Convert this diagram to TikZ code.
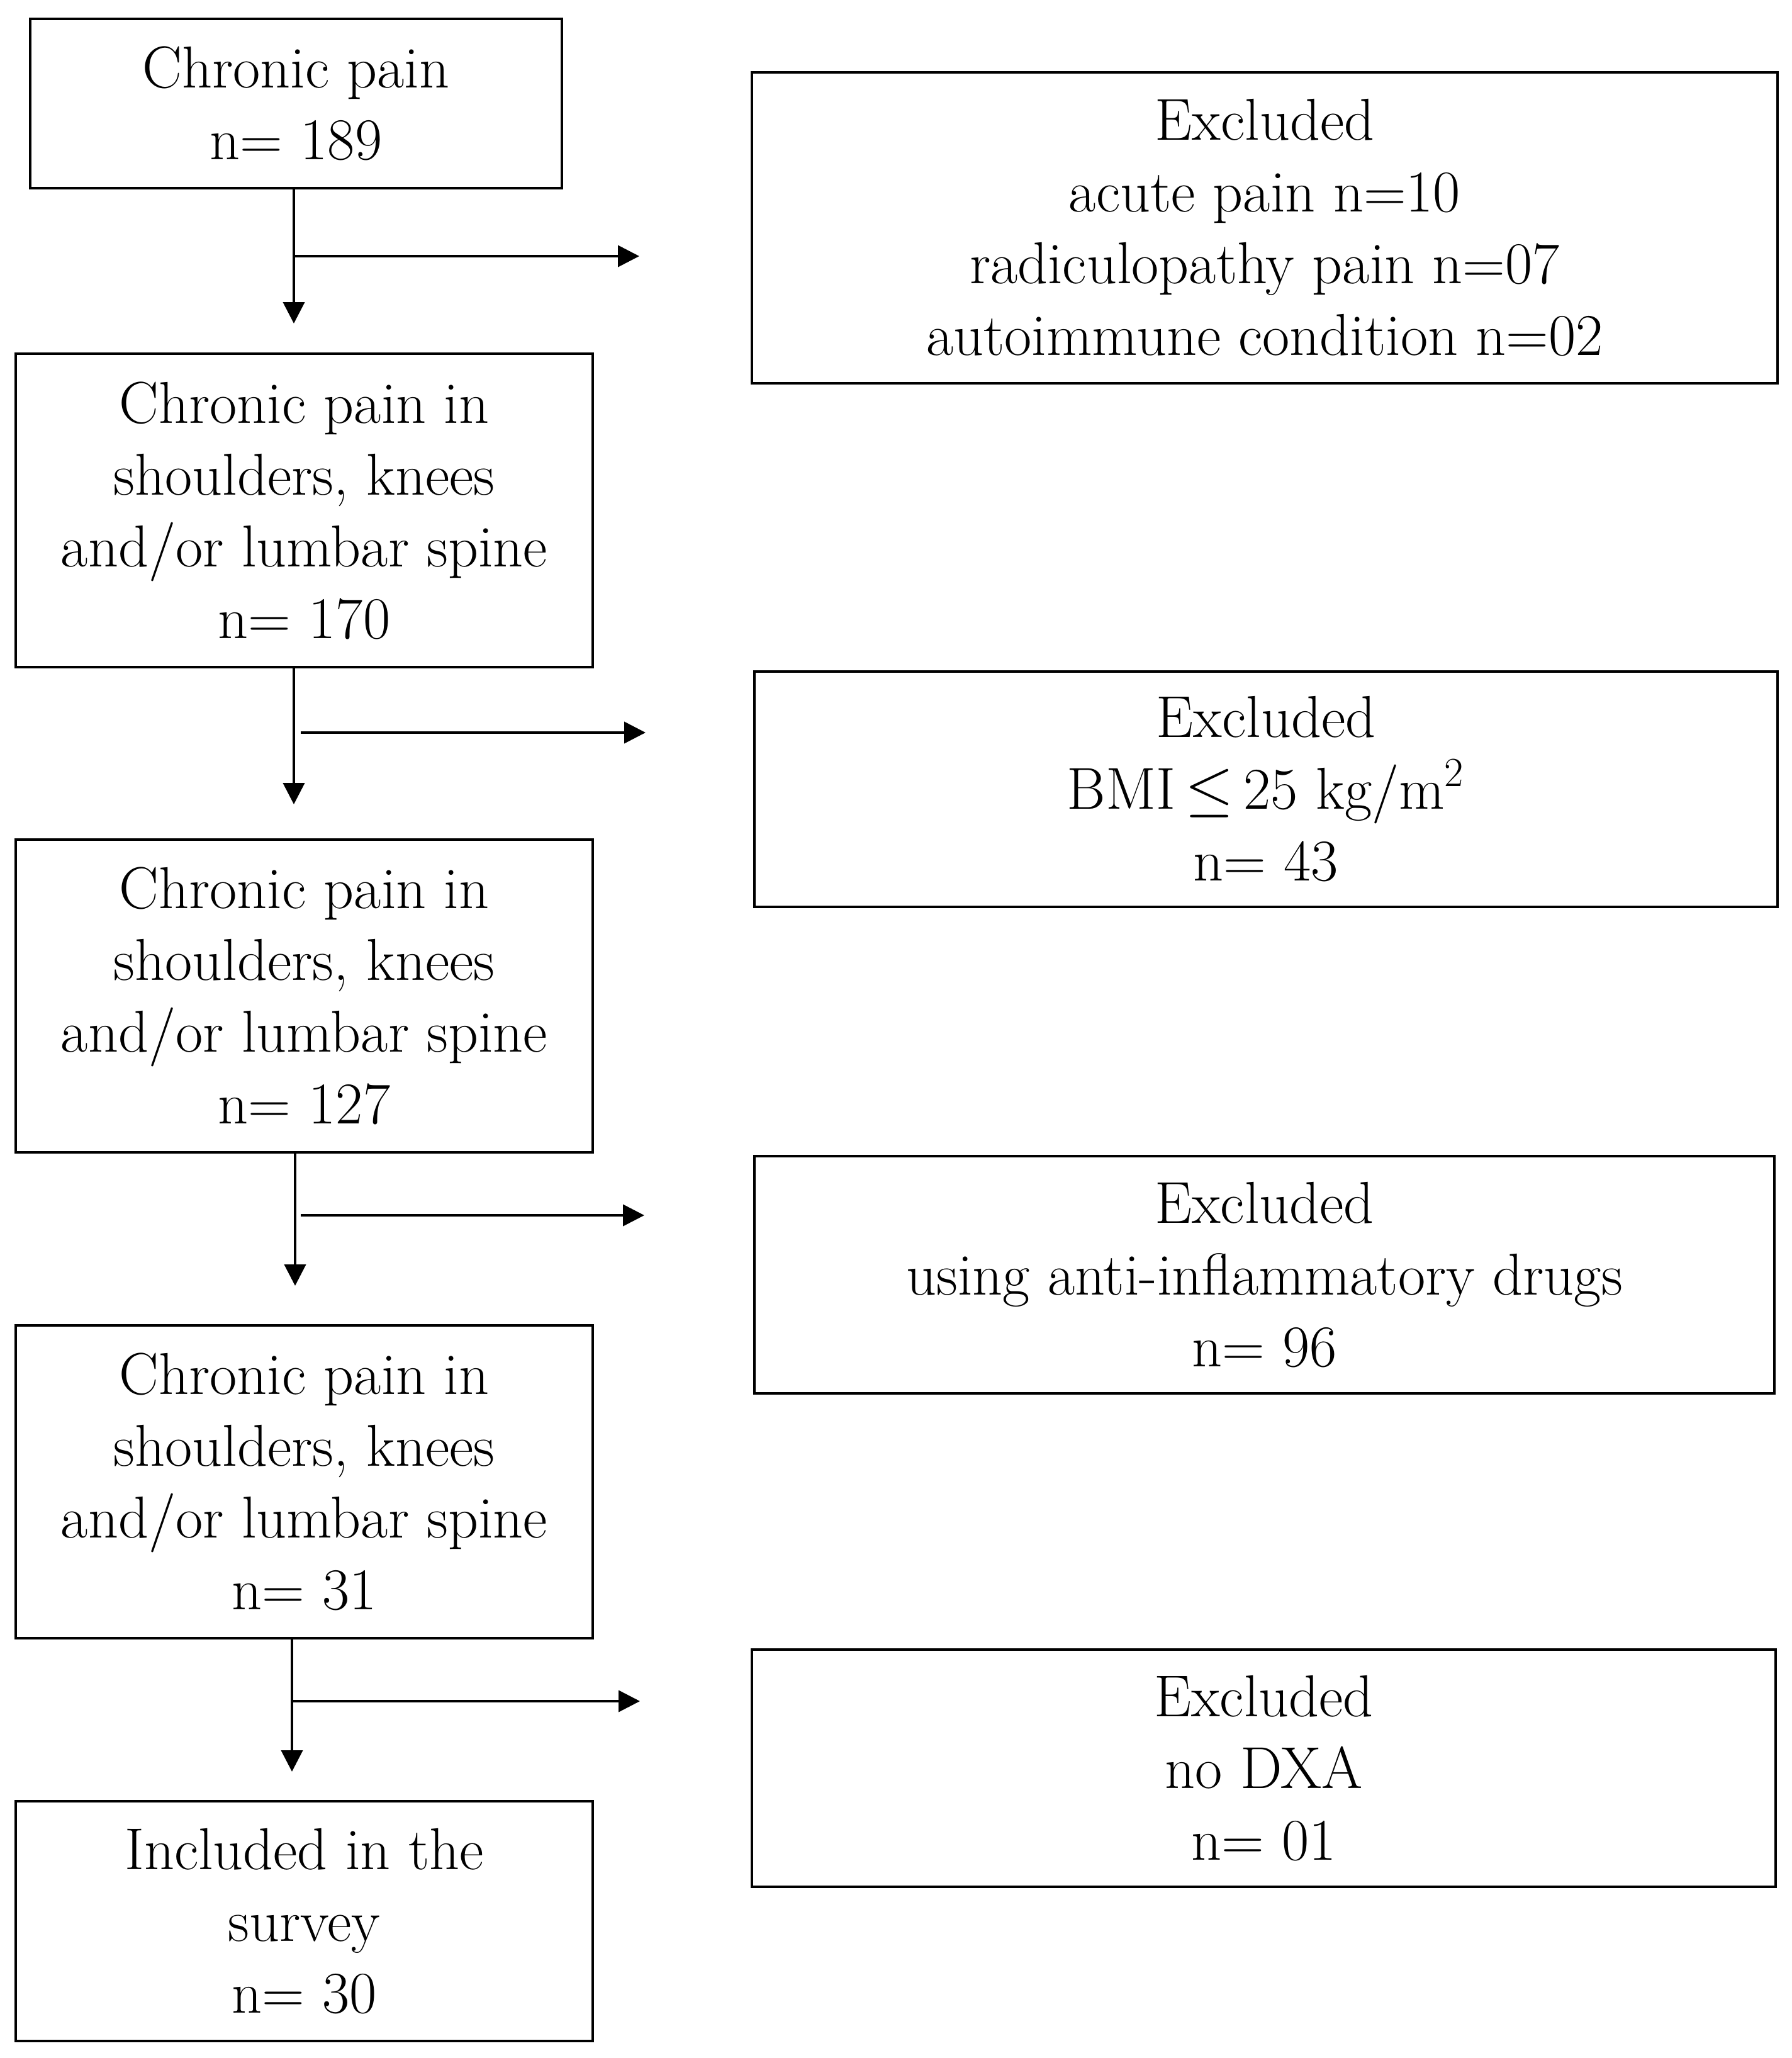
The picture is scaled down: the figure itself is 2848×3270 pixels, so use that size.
\documentclass[tikz,border=0pt]{standalone}
\usetikzlibrary{arrows.meta}
\begin{document}
\begin{tikzpicture}[x=0.25pt,y=-0.25pt,
  box/.style={draw,line width=1.2pt,rectangle,inner sep=0pt,align=center,
    font=\fontsize{23.5}{28.5}\selectfont},
  arr/.style={line width=1pt,-{Triangle[length=8.5pt,width=8.5pt]}},
  ln/.style={line width=1pt}]
\useasboundingbox (0,0) rectangle (2848,3270);
% left column
\node[box,minimum width=211.25pt,minimum height=67.25pt] (b1) at (470.5,164.5) {Chronic pain\\n= 189};
\node[box,minimum width=229.25pt,minimum height=124.5pt] (b2) at (483.5,811) {Chronic pain in\\shoulders, knees\\and/or lumbar spine\\n= 170};
\node[box,minimum width=229.25pt,minimum height=124.25pt] (b3) at (483.5,1582.5) {Chronic pain in\\shoulders, knees\\and/or lumbar spine\\n= 127};
\node[box,minimum width=229.25pt,minimum height=124.25pt] (b4) at (483.5,2354.5) {Chronic pain in\\shoulders, knees\\and/or lumbar spine\\n= 31};
\node[box,minimum width=229.25pt,minimum height=95.25pt] (b5) at (483.5,3052.5) {Included in the\\survey\\n= 30};
% right column
\node[box,minimum width=407.5pt,minimum height=123.5pt] (e1) at (2010,362) {Excluded\\acute pain n=10\\radiculopathy pain n=07\\autoimmune condition n=02};
\node[box,minimum width=406.5pt,minimum height=93.5pt] (e2) at (2012,1254) {Excluded\\BMI\,$\leq$\,25 kg/m\textsuperscript{2}\\n= 43};
\node[box,minimum width=405.25pt,minimum height=94.25pt] (e3) at (2009.5,2025.5) {Excluded\\using anti-inflammatory drugs\\n= 96};
\node[box,minimum width=406.75pt,minimum height=94.25pt] (e4) at (2008.5,2809.5) {Excluded\\no DXA\\n= 01};
% connector points
\coordinate (t1) at (467,514);
\coordinate (j1) at (467,407);
\coordinate (h1) at (1016,407);
\coordinate (t2) at (467,1278);
\coordinate (j2) at (478,1164);
\coordinate (h2) at (1026,1164);
\coordinate (t3) at (469,2043);
\coordinate (j3) at (478,1931);
\coordinate (h3) at (1024,1931);
\coordinate (t4) at (464,2815);
\coordinate (j4) at (464,2703);
\coordinate (h4) at (1017,2703);
% connectors
\draw[arr] (b1.south -| t1) -- (t1);
\draw[arr] (j1) -- (h1);
\draw[arr] (b2.south -| t2) -- (t2);
\draw[arr] (j2) -- (h2);
\draw[arr] (b3.south -| t3) -- (t3);
\draw[arr] (j3) -- (h3);
\draw[arr] (b4.south -| t4) -- (t4);
\draw[arr] (j4) -- (h4);
\end{tikzpicture}
\end{document}
